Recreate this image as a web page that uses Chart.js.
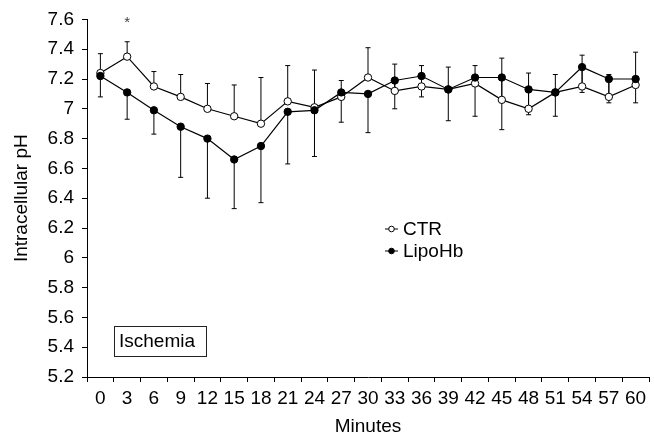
<!DOCTYPE html>
<html>
<head>
<meta charset="utf-8">
<script src="https://cdn.jsdelivr.net/npm/chart.js@4.4.1/dist/chart.umd.min.js"></script>
<style>
  html, body { margin: 0; padding: 0; background: #fff; }
  #wrap { width: 654px; height: 438px; }
</style>
</head>
<body>
<div id="wrap"><canvas id="phChart" width="654" height="438"></canvas></div>
<script>
// minutes of reperfusion (x categories)
const minutes = ['0', '3', '6', '9', '12', '15', '18', '21', '24', '27', '30', '33', '36', '39', '42', '45', '48', '51', '54', '57', '60'];

// CTR group: mean pH and error (drawn upwards)
const ctrMean = [7.24, 7.35, 7.15, 7.08, 7.00, 6.95, 6.90, 7.05, 7.01, 7.08, 7.21, 7.12, 7.15, 7.13, 7.17, 7.06, 7.00, 7.11, 7.15, 7.08, 7.16];
const ctrErr  = [0.13, 0.10, 0.10, 0.15, 0.17, 0.21, 0.31, 0.24, 0.25, 0.11, 0.20, 0.18, 0.14, 0.15, 0.12, 0.28, 0.24, 0.12, 0.21, 0.15, 0.22];

// LipoHb group: mean pH and error (drawn downwards)
const lipoMean = [7.22, 7.11, 6.99, 6.88, 6.80, 6.66, 6.75, 6.98, 6.99, 7.11, 7.10, 7.19, 7.22, 7.13, 7.21, 7.21, 7.13, 7.11, 7.28, 7.20, 7.20];
const lipoErr  = [0.14, 0.18, 0.16, 0.34, 0.40, 0.33, 0.38, 0.35, 0.31, 0.20, 0.26, 0.19, 0.14, 0.21, 0.26, 0.35, 0.17, 0.16, 0.17, 0.16, 0.16];

const yMin = 5.2, yMax = 7.6, yStep = 0.2;

const FONT = '"Liberation Sans", Arial, Helvetica, sans-serif';
const FS = 19;
Chart.defaults.font.family = FONT;
Chart.defaults.color = '#000';

// error bars, drawn before the points so the markers sit on top
const errorBarsPlugin = {
  id: 'errorBars',
  beforeDatasetsDraw(chart) {
    const { ctx } = chart;
    const y = chart.scales.y;
    ctx.save();
    ctx.strokeStyle = '#000';
    ctx.lineWidth = 1;
    chart.data.datasets.forEach((ds, di) => {
      const meta = chart.getDatasetMeta(di);
      meta.data.forEach((pt, i) => {
        const yEnd = y.getPixelForValue(ds.data[i] + ds.errDir * ds.errors[i]);
        ctx.beginPath();
        ctx.moveTo(pt.x, pt.y);
        ctx.lineTo(pt.x, yEnd);
        ctx.moveTo(pt.x - 2.5, yEnd);
        ctx.lineTo(pt.x + 2.5, yEnd);
        ctx.stroke();
      });
    });
    ctx.restore();
  }
};

// legend, ischemia box and significance mark
const annotationsPlugin = {
  id: 'annotations',
  afterDraw(chart) {
    const { ctx } = chart;
    const xs = chart.scales.x, ys = chart.scales.y;
    ctx.save();
    ctx.font = FS + 'px ' + FONT;
    ctx.textBaseline = 'middle';
    ctx.textAlign = 'left';

    // legend
    const items = [
      { label: 'CTR', fill: '#fff', y: 229 },
      { label: 'LipoHb', fill: '#000', y: 251 }
    ];
    items.forEach(it => {
      ctx.strokeStyle = '#000';
      ctx.lineWidth = 1;
      ctx.beginPath();
      ctx.moveTo(385, it.y);
      ctx.lineTo(398, it.y);
      ctx.stroke();
      ctx.beginPath();
      ctx.arc(391.5, it.y, 2.8, 0, Math.PI * 2);
      ctx.fillStyle = it.fill;
      ctx.fill();
      ctx.stroke();
      ctx.fillStyle = '#000';
      ctx.fillText(it.label, 403, it.y + 1);
    });

    // Ischemia box
    ctx.strokeStyle = '#222';
    ctx.lineWidth = 1;
    ctx.strokeRect(114.5, 326.5, 92, 30);
    ctx.fillStyle = '#000';
    ctx.fillText('Ischemia', 119, 342);

    // asterisk over minute 3
    ctx.font = '15px ' + FONT;
    ctx.textAlign = 'center';
    ctx.textBaseline = 'alphabetic';
    ctx.fillStyle = '#444';
    ctx.fillText('*', xs.getPixelForValue(1), ys.getPixelForValue(yMax) + 8);
    ctx.restore();
  }
};

new Chart(document.getElementById('phChart'), {
  type: 'line',
  data: {
    labels: minutes,
    datasets: [
      {
        label: 'CTR', data: ctrMean, errors: ctrErr, errDir: 1, order: 1,
        borderColor: '#000', borderWidth: 1.2, tension: 0,
        pointRadius: 3.7, pointBackgroundColor: '#fff', pointBorderColor: '#000', pointBorderWidth: 1
      },
      {
        label: 'LipoHb', data: lipoMean, errors: lipoErr, errDir: -1, order: 0,
        borderColor: '#000', borderWidth: 1.2, tension: 0,
        pointRadius: 3.7, pointBackgroundColor: '#000', pointBorderColor: '#000', pointBorderWidth: 1
      }
    ]
  },
  options: {
    responsive: false,
    animation: false,
    layout: { padding: { top: 18, right: 0, bottom: 0, left: 0 } },
    plugins: { legend: { display: false }, tooltip: { enabled: false } },
    scales: {
      x: {
        offset: true,
        grid: { offset: true, drawOnChartArea: false, drawTicks: true, tickLength: 5, color: '#000' },
        border: { color: '#000', width: 1 },
        ticks: { autoSkip: false, maxRotation: 0, minRotation: 0, padding: 5, font: { size: FS }, color: '#000' },
        title: { display: true, text: 'Minutes', font: { size: FS }, color: '#000', padding: { top: -1.5, bottom: 0 } },
        afterFit(s) { s.height = 61; }
      },
      y: {
        min: yMin, max: yMax,
        grid: { drawOnChartArea: false, drawTicks: true, tickLength: 5, color: '#000' },
        border: { color: '#000', width: 1 },
        ticks: {
          stepSize: yStep, padding: 8, font: { size: FS }, color: '#000',
          callback: v => String(+Number(v).toFixed(1))
        },
        title: { display: true, text: 'Intracellular pH', font: { size: FS }, color: '#000', padding: { top: 10, bottom: 0 } },
        afterFit(s) { s.width = 87; }
      }
    }
  },
  plugins: [errorBarsPlugin, annotationsPlugin]
});
</script>
</body>
</html>
